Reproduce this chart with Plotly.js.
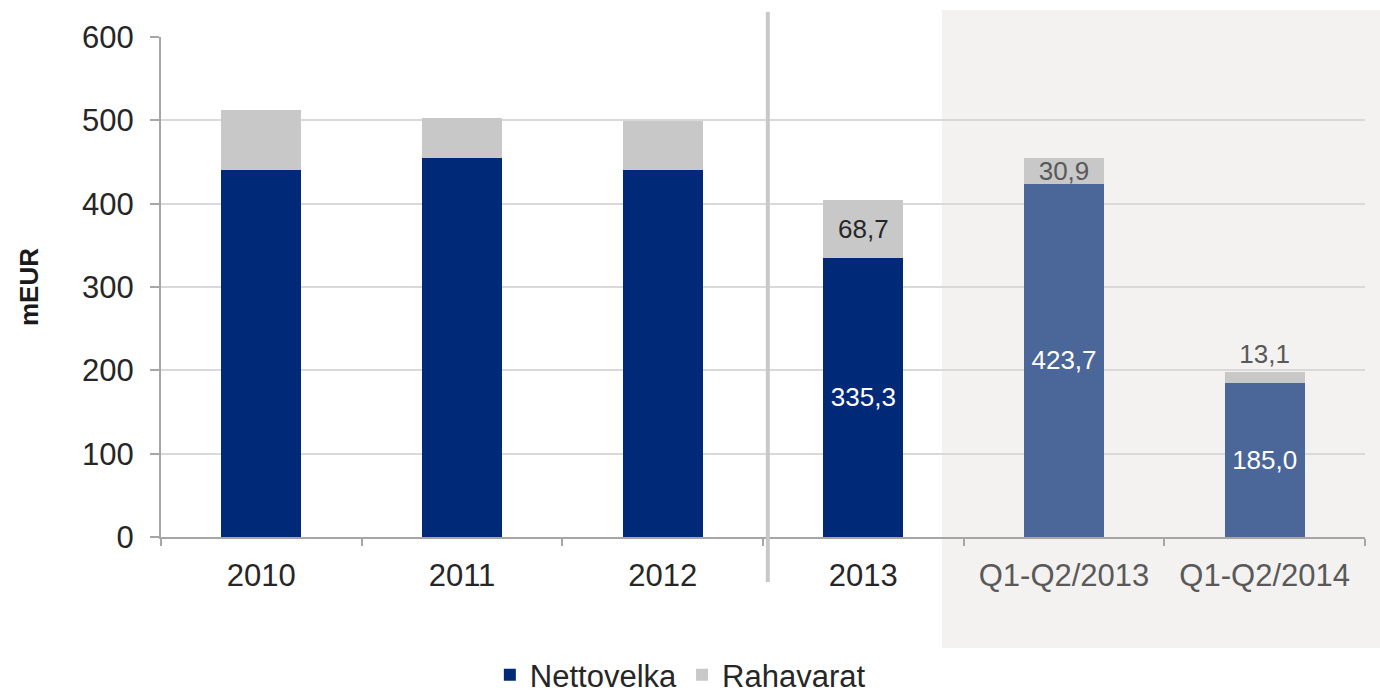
<!DOCTYPE html>
<html>
<head>
<meta charset="utf-8">
<script src="https://cdn.plot.ly/plotly-3.0.1.min.js"></script>
<style>html,body{margin:0;padding:0;background:#fff}#chart{width:1380px;height:696px}</style>
</head>
<body>
<div id="chart"></div>
<script>
// ---- data ----
const categories = ["2010", "2011", "2012", "2013", "Q1-Q2/2013", "Q1-Q2/2014"];
const nettovelka = [440, 455, 440, 335.3, 423.7, 185.0];
const rahavarat = [72, 48, 59, 68.7, 30.9, 13.1];
const nettoLabels = ["", "", "", "335,3", "423,7", "185,0"];
const rahaLabels = ["", "", "", "68,7", "30,9", "13,1"];
const rahaLabelPos = ["inside", "inside", "inside", "inside", "inside", "outside"];
const tickColors = ["#262626", "#262626", "#262626", "#262626", "#595959", "#595959"];

const nettoColors = ["#002A77", "#002A77", "#002A77", "#002A77", "#4B6698", "#4B6698"];
const rahaLabelColors = ["#262626", "#262626", "#262626", "#262626", "#595959", "#595959"];

const FONT = "Liberation Sans, Arial, sans-serif";

const traces = [
  {
    type: "bar", name: "Nettovelka", x: categories, y: nettovelka,
    marker: {color: nettoColors},
    text: nettoLabels, textposition: "inside", insidetextanchor: "middle",
    constraintext: "none", textangle: 0,
    textfont: {family: FONT, size: 26, color: "#FFFFFF"},
    hoverinfo: "skip"
  },
  {
    type: "bar", name: "Rahavarat", x: categories, y: rahavarat,
    marker: {color: "#C8C8C8"},
    text: rahaLabels, textposition: rahaLabelPos, insidetextanchor: "middle",
    constraintext: "none", textangle: 0, cliponaxis: false,
    textfont: {family: FONT, size: 26, color: rahaLabelColors},
    outsidetextfont: {family: FONT, size: 26, color: rahaLabelColors},
    hoverinfo: "skip"
  }
];

const layout = {
  width: 1380, height: 696,
  margin: {l: 161, r: 15, t: 37, b: 159, autoexpand: false},
  paper_bgcolor: "#FFFFFF",
  plot_bgcolor: "rgba(0,0,0,0)",
  barmode: "stack",
  bargap: 0.6,
  font: {family: FONT, color: "#262626"},
  showlegend: true,
  legend: {
    orientation: "h", xref: "container", yref: "container",
    x: 0.493, xanchor: "center", y: 0.03, yanchor: "middle",
    font: {family: FONT, size: 31, color: "#262626"},
    traceorder: "normal", itemclick: false
  },
  xaxis: {
    type: "category",
    tickvals: categories,
    ticktext: categories.map((c, i) => '<span style="color:' + tickColors[i] + '">' + c + '</span>'),
    tickson: "boundaries",
    ticks: "outside", ticklen: 7, tickwidth: 2, tickcolor: "#A6A6A6",
    showline: true, linecolor: "#A6A6A6", linewidth: 2,
    showgrid: false, zeroline: false, automargin: false,
    tickfont: {family: FONT, size: 31, color: "#262626"},
    ticklabelstandoff: 10,
    fixedrange: true
  },
  yaxis: {
    range: [0, 600], dtick: 100, tick0: 0,
    showgrid: true, gridcolor: "#D9D9D9", gridwidth: 2,
    showline: true, linecolor: "#A6A6A6", linewidth: 2,
    ticks: "outside", ticklen: 9, tickwidth: 2, tickcolor: "#A6A6A6",
    zeroline: false, automargin: false,
    tickfont: {family: FONT, size: 31, color: "#262626"},
    ticklabelstandoff: 10,
    title: {text: "mEUR", font: {family: FONT, size: 26, color: "#1a1a1a", weight: 700}, standoff: 36},
    fixedrange: true
  },
  shapes: [
    {
      type: "rect", xref: "paper", yref: "paper",
      x0: 0.6487, x1: 1.02, y0: -0.222, y1: 1.054,
      fillcolor: "#F3F2F0", line: {width: 0}, layer: "below"
    },
    {
      type: "line", xref: "paper", yref: "paper",
      x0: 0.504, x1: 0.504, y0: -0.09, y1: 1.05,
      line: {color: "#C8C8C8", width: 4}, layer: "above"
    }
  ]
};

Plotly.newPlot("chart", traces, layout, {displayModeBar: false, staticPlot: true});
</script>
</body>
</html>
